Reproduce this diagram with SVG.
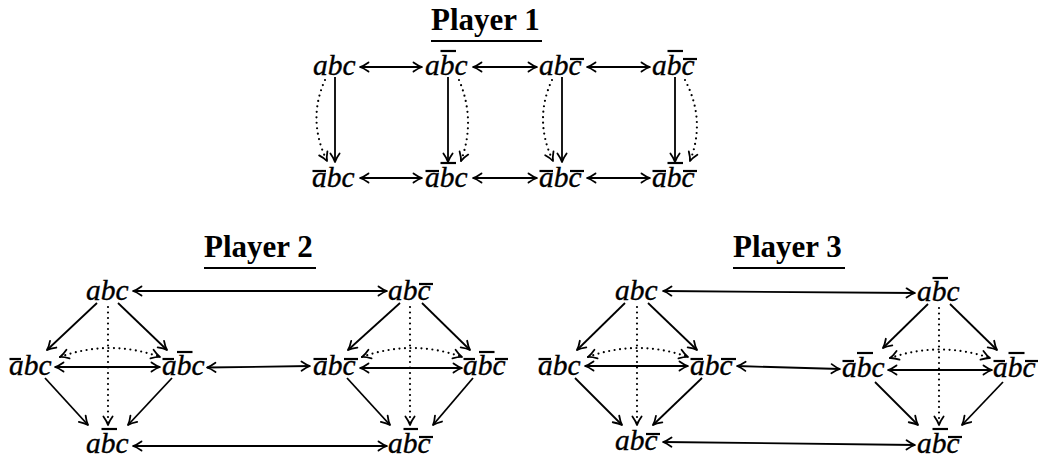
<svg xmlns="http://www.w3.org/2000/svg" width="1042" height="465" viewBox="0 0 1042 465">
<defs>
<style>
.t{font-family:"Liberation Serif","Times New Roman",serif;font-size:31px;font-weight:bold;fill:#000}
.n{font-family:"Liberation Serif","Times New Roman",serif;font-size:29.5px;font-style:italic;fill:#000;stroke:#000;stroke-width:0.35}
.ul{stroke:#000;stroke-width:2.2}
.bar{stroke:#000;stroke-width:2.2}
.e{stroke:#000;stroke-width:1.8;fill:none;marker-end:url(#ah)}
.b{marker-start:url(#ah)}
.dot{stroke-dasharray:0 5.5;stroke-linecap:round;stroke-width:2.2}
</style>
<marker id="ah" viewBox="-10 -6 12 12" refX="0" refY="0" markerWidth="12" markerHeight="12" markerUnits="userSpaceOnUse" orient="auto-start-reverse" overflow="visible">
<path d="M-8.5,-4.6 Q-3.5,-1 0,0 Q-3.5,1 -8.5,4.6" fill="none" stroke="#000" stroke-width="1.8" stroke-linecap="round" stroke-linejoin="round"/>
</marker>
</defs>
<rect width="1042" height="465" fill="#fff"/>

<g id="titles">
<text class="t" x="431" y="30">Player 1</text>
<line class="ul" x1="431" y1="41" x2="542" y2="41"/>
<text class="t" x="204" y="257">Player 2</text>
<line class="ul" x1="204" y1="268" x2="316" y2="268"/>
<text class="t" x="733" y="257">Player 3</text>
<line class="ul" x1="733" y1="268" x2="845" y2="268"/>
</g>

<!-- Player 1 nodes -->
<g id="p1-abc"><text class="n" x="313" y="75">abc</text></g>
<g id="p1-aBc"><text class="n" x="425" y="75">abc</text><line class="bar" x1="440.5" y1="51" x2="456" y2="51"/></g>
<g id="p1-abC"><text class="n" x="539" y="75">abc</text><line class="bar" x1="570" y1="59" x2="584" y2="59"/></g>
<g id="p1-aBC"><text class="n" x="652" y="75">abc</text><line class="bar" x1="667.5" y1="51" x2="683" y2="51"/><line class="bar" x1="683" y1="59" x2="697" y2="59"/></g>
<g id="p1-Abc"><text class="n" x="312" y="187">abc</text><line class="bar" x1="312.5" y1="171" x2="326" y2="171"/></g>
<g id="p1-ABc"><text class="n" x="425" y="187">abc</text><line class="bar" x1="425.5" y1="171" x2="439" y2="171"/><line class="bar" x1="440.5" y1="163" x2="456" y2="163"/></g>
<g id="p1-AbC"><text class="n" x="539" y="187">abc</text><line class="bar" x1="539.5" y1="171" x2="553" y2="171"/><line class="bar" x1="570" y1="171" x2="584" y2="171"/></g>
<g id="p1-ABC"><text class="n" x="652" y="187">abc</text><line class="bar" x1="652.5" y1="171" x2="666" y2="171"/><line class="bar" x1="667.5" y1="163" x2="683" y2="163"/><line class="bar" x1="683" y1="171" x2="697" y2="171"/></g>

<!-- Player 2 nodes -->
<g id="p2-abc"><text class="n" x="86" y="300">abc</text></g>
<g id="p2-abC"><text class="n" x="388" y="300">abc</text><line class="bar" x1="419" y1="284" x2="433" y2="284"/></g>
<g id="p2-Abc"><text class="n" x="9" y="375">abc</text><line class="bar" x1="9.5" y1="359" x2="21" y2="359"/></g>
<g id="p2-ABc"><text class="n" x="162" y="375">abc</text><line class="bar" x1="162.5" y1="359" x2="174" y2="359"/><line class="bar" x1="177" y1="352" x2="192.5" y2="352"/></g>
<g id="p2-AbC"><text class="n" x="313" y="375">abc</text><line class="bar" x1="313.5" y1="359" x2="327" y2="359"/><line class="bar" x1="344" y1="359" x2="358" y2="359"/></g>
<g id="p2-ABC"><text class="n" x="463" y="375">abc</text><line class="bar" x1="463.5" y1="359" x2="475" y2="359"/><line class="bar" x1="479" y1="352" x2="494.5" y2="352"/><line class="bar" x1="495" y1="359" x2="508" y2="359"/></g>
<g id="p2-aBc"><text class="n" x="86" y="453">abc</text><line class="bar" x1="101.5" y1="429" x2="117" y2="429"/></g>
<g id="p2-aBC"><text class="n" x="388" y="453">abc</text><line class="bar" x1="403.5" y1="429" x2="418" y2="429"/><line class="bar" x1="419" y1="437" x2="433" y2="437"/></g>

<!-- Player 3 nodes -->
<g id="p3-abc"><text class="n" x="615" y="300">abc</text></g>
<g id="p3-aBc"><text class="n" x="917" y="301">abc</text><line class="bar" x1="932.5" y1="278" x2="948" y2="278"/></g>
<g id="p3-Abc"><text class="n" x="538" y="375">abc</text><line class="bar" x1="538.5" y1="359" x2="551" y2="359"/></g>
<g id="p3-AbC"><text class="n" x="690" y="375">abc</text><line class="bar" x1="690.5" y1="359" x2="703" y2="359"/><line class="bar" x1="721" y1="359" x2="736" y2="359"/></g>
<g id="p3-ABc"><text class="n" x="842" y="377">abc</text><line class="bar" x1="842.5" y1="361" x2="854" y2="361"/><line class="bar" x1="857" y1="353" x2="873" y2="353"/></g>
<g id="p3-ABC"><text class="n" x="993" y="377">abc</text><line class="bar" x1="993.5" y1="361" x2="1005" y2="361"/><line class="bar" x1="1008.5" y1="353" x2="1024.5" y2="353"/><line class="bar" x1="1025" y1="361" x2="1038" y2="361"/></g>
<g id="p3-abC"><text class="n" x="615" y="450">abc</text><line class="bar" x1="646" y1="434" x2="660" y2="434"/></g>
<g id="p3-aBC"><text class="n" x="917" y="453">abc</text><line class="bar" x1="932.5" y1="429" x2="948" y2="429"/><line class="bar" x1="948" y1="437" x2="962" y2="437"/></g>

<g id="connectors">
<!-- Player 1 -->
<line class="e b" x1="360" y1="67" x2="422" y2="67"/>
<line class="e b" x1="473" y1="67" x2="537" y2="67"/>
<line class="e b" x1="587" y1="67" x2="650" y2="67"/>
<line class="e b" x1="360" y1="178" x2="422" y2="178"/>
<line class="e b" x1="473" y1="178" x2="537" y2="178"/>
<line class="e b" x1="587" y1="178" x2="650" y2="178"/>
<line class="e" x1="335" y1="77" x2="335" y2="162"/>
<line class="e" x1="448" y1="77" x2="448" y2="162"/>
<line class="e" x1="562" y1="77" x2="562" y2="162"/>
<line class="e" x1="675" y1="77" x2="675" y2="162"/>
<path class="e dot" d="M325,80 Q307,120 327,161"/>
<path class="e dot" d="M459,80 Q476,120 461,161"/>
<path class="e dot" d="M552,80 Q533.5,120 553,161"/>
<path class="e dot" d="M685,80 Q706,120 690,161"/>
<!-- Player 2 -->
<line class="e b" x1="133" y1="291" x2="387" y2="291"/>
<line class="e b" x1="133" y1="446" x2="387" y2="446"/>
<line class="e b" x1="55" y1="367" x2="160" y2="367"/>
<line class="e b" x1="207" y1="367.5" x2="310" y2="366"/>
<line class="e b" x1="360" y1="368" x2="462" y2="368"/>
<line class="e" x1="97" y1="303" x2="47" y2="350"/>
<line class="e" x1="118" y1="303" x2="167" y2="350"/>
<line class="e" x1="45" y1="378" x2="88" y2="425"/>
<line class="e" x1="172" y1="378" x2="128" y2="425"/>
<line class="e dot" x1="108" y1="307" x2="108" y2="425"/>
<path class="e b dot" d="M60,357 Q110,339 160,357"/>
<line class="e" x1="400" y1="303" x2="348" y2="350"/>
<line class="e" x1="422" y1="303" x2="470" y2="350"/>
<line class="e" x1="347" y1="378" x2="390" y2="425"/>
<line class="e" x1="473" y1="378" x2="433" y2="425"/>
<line class="e dot" x1="410" y1="307" x2="410" y2="425"/>
<path class="e b dot" d="M362,357 Q412,339 462,357"/>
<!-- Player 3 -->
<line class="e b" x1="663" y1="291" x2="915" y2="293"/>
<line class="e b" x1="663" y1="442" x2="915" y2="445"/>
<line class="e b" x1="585" y1="366" x2="688" y2="366"/>
<line class="e b" x1="737" y1="366" x2="840" y2="369"/>
<line class="e b" x1="888" y1="370" x2="992" y2="370"/>
<line class="e" x1="625" y1="303" x2="577" y2="350"/>
<line class="e" x1="648" y1="303" x2="697" y2="350"/>
<line class="e" x1="575" y1="378" x2="622" y2="425"/>
<line class="e" x1="702" y1="378" x2="653" y2="425"/>
<line class="e dot" x1="637" y1="307" x2="637" y2="425"/>
<path class="e b dot" d="M588,357 Q638,339 688,357"/>
<line class="e" x1="928" y1="304" x2="883" y2="348"/>
<line class="e" x1="950" y1="304" x2="997" y2="350"/>
<line class="e" x1="875" y1="382" x2="918" y2="425"/>
<line class="e" x1="1003" y1="382" x2="962" y2="425"/>
<line class="e dot" x1="939" y1="308" x2="939" y2="425"/>
<path class="e b dot" d="M890,358 Q940,341 990,358"/>
</g>
</svg>
